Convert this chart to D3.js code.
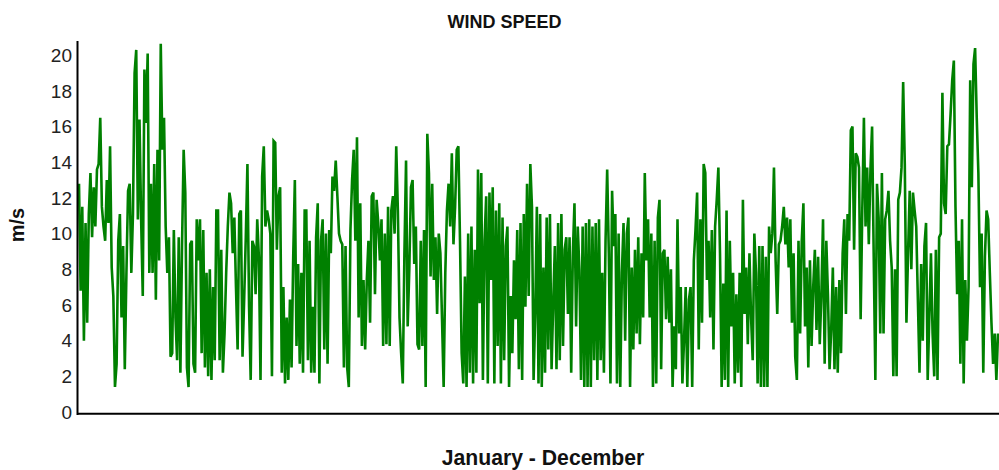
<!DOCTYPE html>
<html>
<head>
<meta charset="utf-8">
<script src="https://cdn.jsdelivr.net/npm/d3@7"></script>
<style>
  html, body { margin: 0; padding: 0; background: #fff; }
  svg { display: block; }
  text { font-family: "Liberation Sans", Arial, sans-serif; }
</style>
</head>
<body>
<svg id="chart" width="999" height="470"></svg>
<script>
// ---- data (m/s), January -> December ----
const segJanFeb = [12.8,6.8,11.5,4.0,10.6,5.0,11.1,13.4,9.8,12.6,10.4,13.6,13.9,16.5,11.5,10.4,9.6,13.0,10.6,14.9,8.1,6.5,1.4,2.7,9.6,11.1,5.3,9.3,2.4,7.8,12.4,12.8,7.8,11.1,19.0,20.3,10.8,16.4,10.8,6.5,19.2,16.2,20.1,7.8,12.8,7.8,13.9,6.3,14.7,8.5,20.65,14.7,16.5,10.4,7.8,9.8,3.1];
const segFebMar = [3.3,10.2,5.3,2.9,9.8,2.2,9.3,14.7,12.3,2.5,1.4,9.4,9.6,2.7,2.2,10.8,8.5,10.8,3.3,10.2,2.5,7.8,2.0,8.0,1.8,7.0,2.9,11.3,11.3,2.9,9.1,2.2,4.4,7.8,10.4,12.3,11.7,8.9,10.9,7.0,3.5,11.1,11.3,3.1,6.3,9.8,13.9,5.9,1.8,9.6,9.3,6.6,10.8,8.7,1.8,13.2,14.9,10.4];
const segMarApr = [11.3,10.8,10.0,2.0,15.2,15.1,9.1,12.1,12.6,2.2,7.0,1.6,5.3,1.8,6.3,2.5,8.7,13.0,3.7,8.3,2.7,7.8,2.2,11.3,11.3,2.9,9.6,2.2,5.9,2.2,9.8,11.7,1.6,9.6,10.8,3.5,10.0,2.7,10.2,8.9,13.2,12.4,14.1,12.1,10.0,9.6,9.4,2.5,9.3,2.5,1.4,10.2,13.0,14.7];
const segAprMay = [9.6,15.4,5.3,11.7,3.7,7.4,3.5,7.4,9.6,5.0,12.1,12.3,6.6,11.9,10.6,8.5,10.8,3.7,10.0,3.8,11.5,3.7,11.3,12.1,10.0,14.9,11.3,5.3,3.3,1.6,8.9,14.1,4.8,8.0,12.6,13.0,8.3,10.4,3.8,3.5,9.6,3.7,10.2,1.4,15.6,13.4,7.6,12.8,7.4,9.8,5.5,10.0,8.9,5.2];
const segMayJun = [1.4,7.8,11.3,12.8,10.4,14.5,9.4,11.5,14.7,14.9,9.6,3.3,1.6,7.6,1.4,10.0,2.2,10.4,1.6,9.1,2.2,13.6,6.1,13.4,1.8,9.6,12.1,1.6,12.3,7.4,12.6,1.6,11.3,3.7,11.7,1.6,10.9,2.9,9.3,10.4,1.4,6.5,3.3,8.5,5.2,10.2,2.4,10.6,1.8,11.1,5.9,12.8,6.5,13.9,11.5,1.8];
const segJunJul = [5.5,11.5,1.6,11.1,1.4,8.1,2.2,10.9,3.5,11.1,2.4,6.1,9.3,2.4,10.6,2.9,11.1,3.7,9.1,9.8,5.5,9.8,2.2,8.9,11.7,4.8,10.4,8.0,1.8,10.4,1.4,10.6,1.4,10.8,1.4,10.4,2.9,10.6,1.8,10.8,2.9,7.8,2.2,9.6,13.6,8.9,1.6,12.4,9.3,11.1,1.6,10.0,1.4,7.8];
const segJulAug = [10.6,4.0,10.0,10.9,1.4,8.1,3.5,9.1,4.4,9.8,3.8,8.9,5.3,13.4,8.5,10.8,5.3,10.0,1.4,9.6,1.6,10.9,11.9,2.4,8.9,9.1,5.2,8.7,5.0,8.0,1.4,4.8,2.4,10.8,4.4,7.0,1.6,4.0,7.0,1.4,6.3,7.0,1.4,8.5,10.2,12.3,3.5,10.8,5.0,13.9,13.4,7.4,9.6,5.3];
const segAugSep = [10.2,3.5,10.4,11.9,13.7,8.9,1.4,7.2,1.8,11.3,1.4,9.6,4.8,7.8,1.6,6.6,2.2,7.8,1.4,11.9,5.5,8.1,3.8,8.9,5.3,2.9,10.0,7.8,1.6,9.3,1.4,9.3,1.4,8.7,1.4,10.4,8.9,10.0,13.7,8.5,5.5,9.4,9.6,10.4,11.5,9.4,10.9,8.1,10.8,5.0,8.9,3.1,1.8,9.6];
const segOctNov = [4.4,9.6,11.7,4.8,8.1,2.5,8.5,3.7,7.0,9.1,4.6,8.7,3.8,6.6,10.8,2.7,9.6,6.6,2.4,4.6,8.1,2.4,7.0,2.2,7.4,3.3,8.9,10.8,5.5,11.1,9.6,15.8,16.0,9.1,14.5,14.3,13.7,5.2,11.3,16.5,10.4,13.7,9.4,13.6,16.0,8.7,1.8,12.8,10.9,4.4,13.4,4.4,10.8];
const segNovDec = [11.3,12.4,9.6,8.1,2.0,8.0,2.0,11.9,12.3,13.7,18.5,13.9,5.0,8.9,12.4,8.0,12.3,11.3,10.4,6.3,2.2,8.3,4.0,9.3,10.6,1.8,5.3,8.9,4.4,2.0,9.1,1.8,9.8,10.0,17.9,11.7,11.1,14.9,15.0,16.7,18.6,19.7,11.5,6.6,9.6,2.7,10.8,1.6,7.4,4.0,7.0,18.6,12.6,19.5,20.4,16.5,13.4,7.0,10.0,2.2,8.7,11.3,10.8,7.8,5.0,2.7,4.4,1.8,4.4];

const windSpeed = [].concat(segJanFeb, segFebMar, segMarApr, segAprMay, segMayJun,
                            segJunJul, segJulAug, segAugSep, segOctNov, segNovDec);

const yTicks = [0, 2, 4, 6, 8, 10, 12, 14, 16, 18, 20];
const yMax = 20.8;
const titleText = "WIND SPEED";
const xTitle = "January - December";
const yTitle = "m/s";

// ---- layout ----
const svg = d3.select("#chart");
const plotLeft = 79, plotRight = 998, plotTop = 41, plotBottom = 412;

const x = d3.scaleLinear().domain([0, windSpeed.length - 1]).range([plotLeft, plotRight]);
const y = d3.scaleLinear().domain([0, yMax]).range([plotBottom, plotTop]);

// line
const line = d3.line().x((d, i) => x(i)).y(d => y(d));
svg.append("path")
  .datum(windSpeed)
  .attr("fill", "none")
  .attr("stroke", "#008000")
  .attr("stroke-width", 2.6)
  .attr("d", line);

// y axis
const yAxis = d3.axisLeft(y).tickValues(yTicks).tickSize(0).tickPadding(6).tickFormat(d3.format("d"));
const gy = svg.append("g").attr("transform", "translate(78,0)").call(yAxis);
gy.select(".domain").remove();
gy.selectAll("text")
  .attr("font-size", 19)
  .attr("fill", "#222")
  .style("font-family", "'Liberation Sans', Arial, sans-serif");

// axis lines
svg.append("line").attr("x1", 77.5).attr("x2", 77.5).attr("y1", plotTop).attr("y2", 415)
  .attr("stroke", "#000").attr("stroke-width", 2);
svg.append("line").attr("x1", 77).attr("x2", 999).attr("y1", 413.8).attr("y2", 413.8)
  .attr("stroke", "#000").attr("stroke-width", 2);

// titles
svg.append("text").attr("x", 504.5).attr("y", 28).attr("text-anchor", "middle")
  .attr("font-size", 18).attr("font-weight", "bold").attr("fill", "#111").text(titleText);
svg.append("text").attr("x", 543).attr("y", 465).attr("text-anchor", "middle")
  .attr("font-size", 21.2).attr("font-weight", "bold").attr("fill", "#111").text(xTitle);
svg.append("text").attr("transform", "translate(24,225) rotate(-90)").attr("text-anchor", "middle")
  .attr("font-size", 20).attr("font-weight", "bold").attr("fill", "#111").text(yTitle);
</script>
</body>
</html>
